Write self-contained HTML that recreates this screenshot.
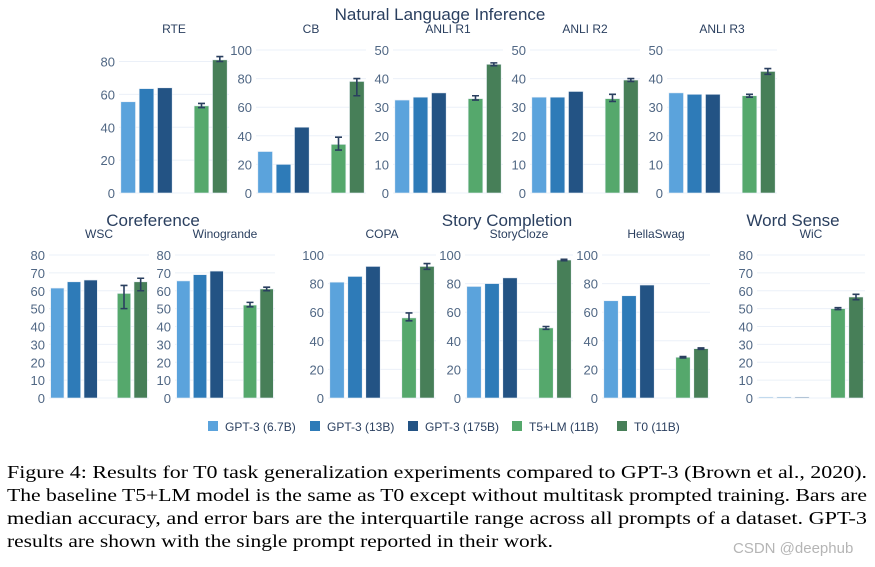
<!DOCTYPE html>
<html><head><meta charset="utf-8"><style>
body{margin:0;background:#fff;}
svg{display:block;font-family:"Liberation Sans","DejaVu Sans",sans-serif;}
</style></head><body>
<svg id="chart" width="875" height="567" viewBox="0 0 875 567" xmlns="http://www.w3.org/2000/svg">
<g id="plots"></g>
<g id="legend"></g>
<g font-family="Liberation Serif, serif" font-size="18" fill="#000">
<text x="7" y="478" textLength="860" lengthAdjust="spacingAndGlyphs">Figure 4: Results for T0 task generalization experiments compared to GPT-3 (Brown et al., 2020).</text>
<text x="7" y="501" textLength="860" lengthAdjust="spacingAndGlyphs">The baseline T5+LM model is the same as T0 except without multitask prompted training. Bars are</text>
<text x="7" y="524" textLength="860" lengthAdjust="spacingAndGlyphs">median accuracy, and error bars are the interquartile range across all prompts of a dataset. GPT-3</text>
<text x="7" y="547" textLength="546" lengthAdjust="spacingAndGlyphs">results are shown with the single prompt reported in their work.</text>
</g>
<text x="733" y="553" font-size="15" fill="#b5b5b5">CSDN @deephub</text>
</svg>
<script>
const seriesNames = ["GPT-3 (6.7B)","GPT-3 (13B)","GPT-3 (175B)","T5+LM (11B)","T0 (11B)"];
const datasets = ["RTE","CB","ANLI R1","ANLI R2","ANLI R3","WSC","Winogrande","COPA","StoryCloze","HellaSwag","WiC"];
const gpt67 = [55.5,29,32.5,33.5,35,61.5,65.5,81,78,68,0.5];
const gpt13 = [63.5,20,33.5,33.5,34.5,65,69,85,80,71.5,0.5];
const gpt175 = [64,46,35,35.5,34.5,66,71,92,84,79,0.5];
const t5lm = [53,34,33,33,34,58.5,52,56,49,28.5,50];
const t5lmLo = [52,30,32.5,32,33.5,50,51,54,48,28,49.5];
const t5lmHi = [54.5,39,34,34.5,34.5,63,53.5,59.5,50,29,50.5];
const t0 = [81,78,45,39.5,42.5,65,61,92,96.5,34.5,56.5];
const t0Lo = [80,68,44.5,39,41.5,60,60,90,96,34,55];
const t0Hi = [83,80,45.5,40,43.5,67,62,94,97,35,58];
const axisMax = [87,100,50,50,50,80,80,100,100,100,80];
const tickStep = [20,20,10,10,10,10,10,20,20,20,10];
const groupTitles = ["Natural Language Inference","Coreference","Story Completion","Word Sense"];

const colors = ["#5ba3dc","#2e7bb8","#235384","#55a86c","#477f58"];
// layout (positions only)
const layout = [
 [119,50,193,110],[256,50,193,110],[393,50,193,110],[530,50,193,110],[667,50,193,110],
 [49,255,398,100],[175,255,398,100],[328,255,398,108],[465,255,398,108],[602,255,398,108],[757,255,398,108]
];
const groupPos = [[440,20],[153,226],[507,226],[793,226]];
const NS="http://www.w3.org/2000/svg";
function mk(tag,attrs,parent){const e=document.createElementNS(NS,tag);for(const k in attrs)e.setAttribute(k,attrs[k]);parent.appendChild(e);return e;}
const plots=document.getElementById('plots');
const svg=document.getElementById('chart');
groupTitles.forEach((t,i)=>{
  const e=mk('text',{x:groupPos[i][0],y:groupPos[i][1],'text-anchor':'middle','font-size':17,fill:'#2a3f5f'},svg);
  e.textContent=t;
  
  
});
datasets.forEach((name,d)=>{
  const [x0,top,base,w]=layout[d];
  const g=mk('g',{},plots);
  
  
  const y=v=>base-(v/axisMax[d])*(base-top);
  for(let v=0;v<=axisMax[d]+0.001;v+=tickStep[d]){
    if(v>0){const gl=mk('line',{x1:x0,x2:x0+w,y1:y(v),y2:y(v),stroke:'#ebf0f8','stroke-width':1},g);
      
      }
    const tl=mk('text',{x:x0-4,y:y(v)+5,'text-anchor':'end','font-size':13,fill:'#506784'},g);
    tl.textContent=v;
    
    
  }
  const bl=mk('line',{x1:x0,x2:x0+w,y1:base,y2:base,stroke:'#ebf0f8','stroke-width':1},g);
  
  
  const st=mk('text',{x:x0+w/2,y:top-17,'text-anchor':'middle','font-size':12,fill:'#2a3f5f'},g);
  st.textContent=name;
  
  
  const vals=[gpt67[d],gpt13[d],gpt175[d],t5lm[d],t0[d]];
  const slot=w/6, bw=slot*0.8;
  const slots=[0,1,2,4,5];
  vals.forEach((v,s)=>{
    const bx=x0+slots[s]*slot+(slot-bw)/2;
    const r=mk('rect',{x:bx,y:y(v),width:bw,height:base-y(v),fill:colors[s],stroke:'#e8eef6','stroke-width':0.6},g);
    
    
    if(s>=3){
      const lo=s===3?t5lmLo[d]:t0Lo[d], hi=s===3?t5lmHi[d]:t0Hi[d];
      const cx=bx+bw/2;
      const eb=mk('path',{d:`M${cx} ${y(lo)}V${y(hi)}M${cx-3.5} ${y(lo)}H${cx+3.5}M${cx-3.5} ${y(hi)}H${cx+3.5}`,stroke:'#2a3f5f','stroke-width':1.6,fill:'none'},g);
      
      
    }
  });
});
const legX=[208,310,408,512,617];
const leg=document.getElementById('legend');
seriesNames.forEach((n,i)=>{
  const r=mk('rect',{x:legX[i],y:421,width:10,height:10,fill:colors[i]},leg);
  
  
  const t=mk('text',{x:legX[i]+17,y:431,'font-size':12,fill:'#2a3f5f'},leg);
  t.textContent=n;
  
  
});
</script>
</body></html>
